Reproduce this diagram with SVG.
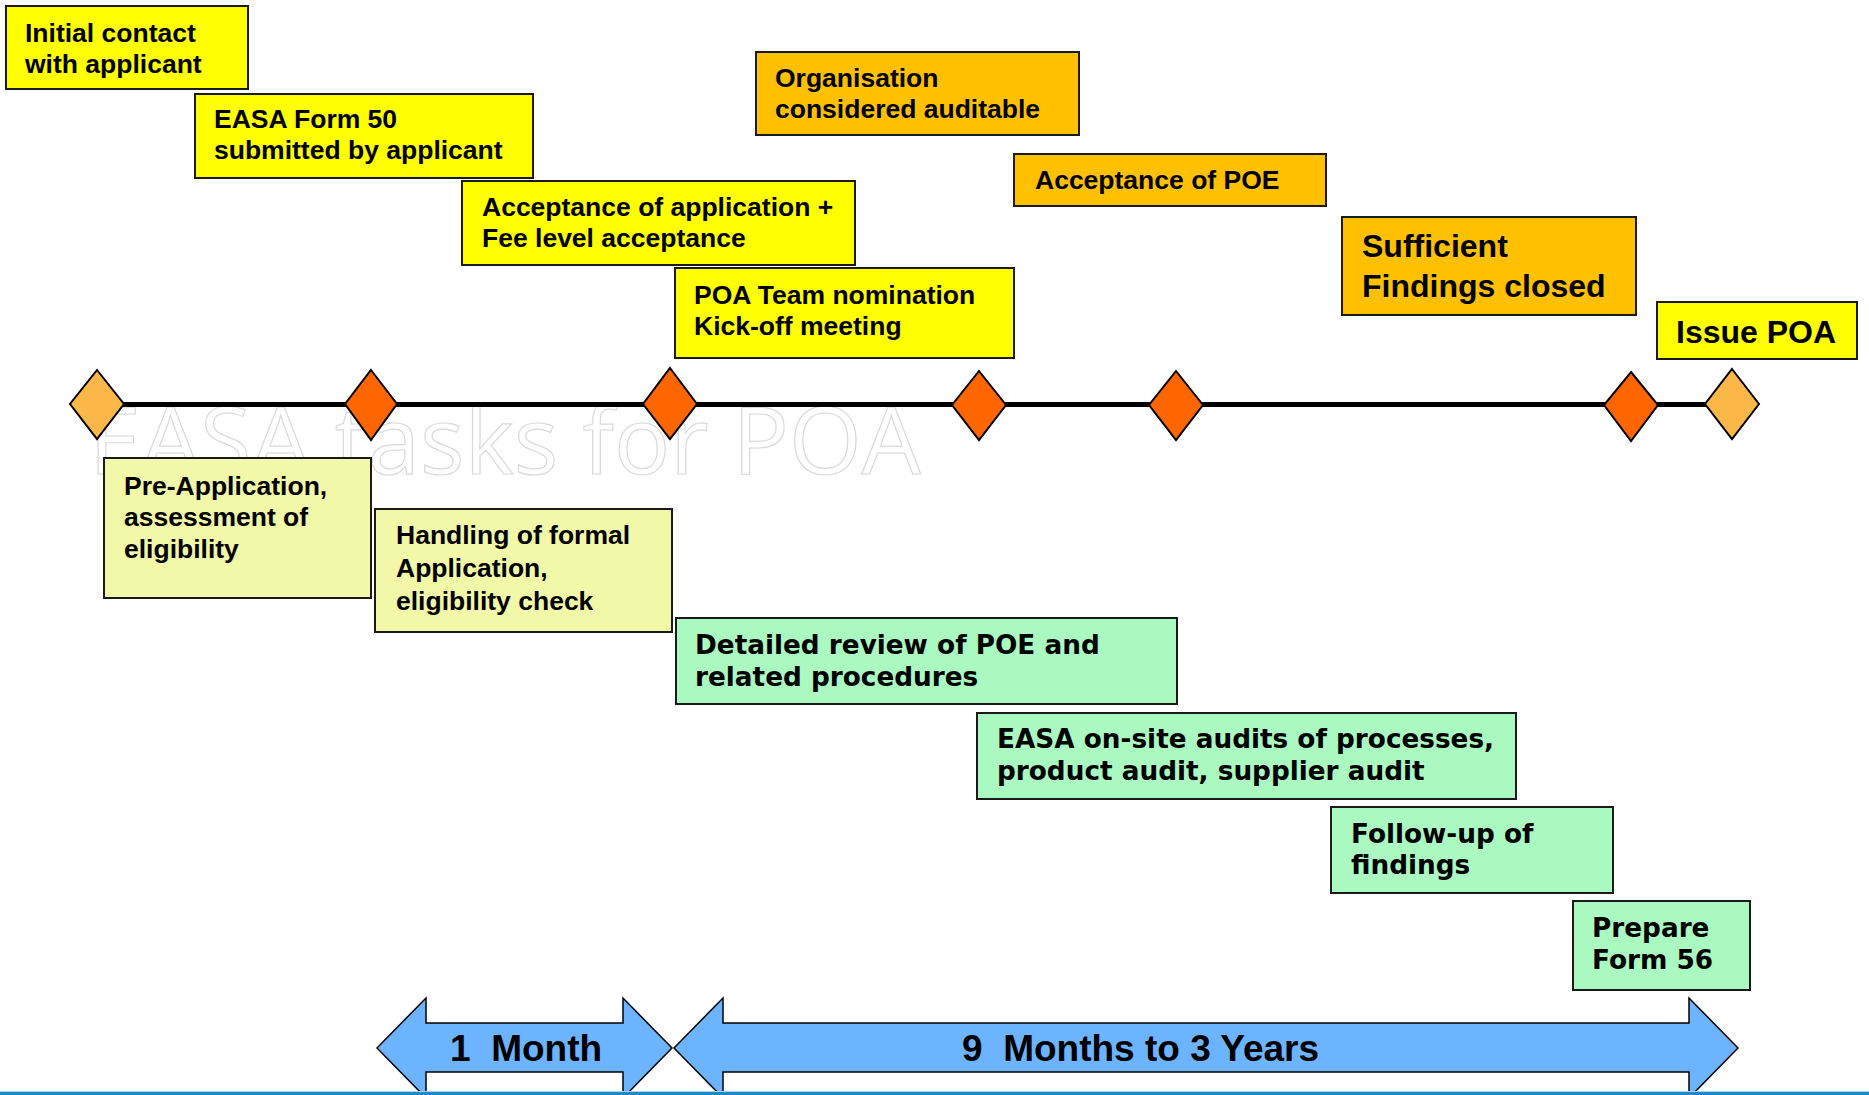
<svg xmlns="http://www.w3.org/2000/svg" width="1869" height="1095" viewBox="0 0 1869 1095">
<style>
.box{stroke:#1a1a1a;stroke-width:2}
.yel{fill:#FFFF00}
.org{fill:#FFC000}
.pale{fill:#F1F8A8}
.grn{fill:#AAF9C1}
.t{font-family:"Liberation Sans",Arial,sans-serif;font-weight:bold;font-size:26.5px;fill:#000}
.tb{font-family:"Liberation Sans",Arial,sans-serif;font-weight:bold;font-size:32px;fill:#000}
.tv{font-family:"DejaVu Sans",Verdana,sans-serif;font-weight:bold;font-size:26.3px;fill:#000}
.ta{font-family:"Liberation Sans",Arial,sans-serif;font-weight:bold;font-size:37px;fill:#000}
.dk{fill:#FF6600;stroke:#000;stroke-width:2}
.lt{fill:#FBB848;stroke:#000;stroke-width:2}
.arr{fill:#6CB4FF;stroke:#000;stroke-width:1.5}
.wm{font-family:"Open Sans","DejaVu Sans",sans-serif;font-size:93.5px;fill:#fff;stroke:#d9d9d9;stroke-width:1.2}
</style>
<rect width="1869" height="1095" fill="#fff"/>
<text class="wm" x="89" y="474">EASA tasks for POA</text>
<g id="connectors">
<line x1="97" y1="404.5" x2="1732" y2="404.5" stroke="#000" stroke-width="5"/>
</g>
<g id="m1"><polygon class="lt" points="97,370 124,404 97,439 70,404"/></g>
<g id="m2"><polygon class="dk" points="371,370 397,404 371,440 345,404"/></g>
<g id="m3"><polygon class="dk" points="670,368 697,404 670,439 643,404"/></g>
<g id="m4"><polygon class="dk" points="979,371 1006,405 979,440 952,405"/></g>
<g id="m5"><polygon class="dk" points="1176,371 1203,405 1176,440 1149,405"/></g>
<g id="m6"><polygon class="dk" points="1631,372 1658,405 1631,441 1604,405"/></g>
<g id="m7"><polygon class="lt" points="1732,369 1759,404 1732,439 1705,404"/></g>

<g id="initial-contact"><rect class="box yel" x="6" y="6" width="242" height="83"/><text class="t" x="25" y="42">Initial contact</text><text class="t" x="25" y="73">with applicant</text></g>
<g id="form50"><rect class="box yel" x="195" y="94" width="338" height="84"/><text class="t" x="214" y="128">EASA Form 50</text><text class="t" x="214" y="159">submitted by applicant</text></g>
<g id="acceptance-app"><rect class="box yel" x="462" y="181" width="393" height="84"/><text class="t" x="482" y="216">Acceptance of application +</text><text class="t" x="482" y="247">Fee level acceptance</text></g>
<g id="poa-team"><rect class="box yel" x="675" y="268" width="339" height="90"/><text class="t" x="694" y="304">POA Team nomination</text><text class="t" x="694" y="335">Kick-off meeting</text></g>
<g id="org-auditable"><rect class="box org" x="756" y="52" width="323" height="83"/><text class="t" x="775" y="87">Organisation</text><text class="t" x="775" y="118">considered auditable</text></g>
<g id="poe-acceptance"><rect class="box org" x="1014" y="154" width="312" height="52"/><text class="t" x="1035" y="189">Acceptance of POE</text></g>
<g id="findings-closed"><rect class="box org" x="1342" y="217" width="294" height="98"/><text class="tb" x="1362" y="257">Sufficient</text><text class="tb" x="1362" y="297">Findings closed</text></g>
<g id="issue-poa"><rect class="box yel" x="1657" y="302" width="200" height="57"/><text class="tb" x="1676" y="343">Issue POA</text></g>

<g id="pre-application"><rect class="box pale" x="104" y="458" width="267" height="140"/><text class="t" x="124" y="495">Pre-Application,</text><text class="t" x="124" y="526">assessment of</text><text class="t" x="124" y="558">eligibility</text></g>
<g id="formal-application"><rect class="box pale" x="375" y="509" width="297" height="123"/><text class="t" x="396" y="544">Handling of formal</text><text class="t" x="396" y="577">Application,</text><text class="t" x="396" y="610">eligibility check</text></g>
<g id="poe-review"><rect class="box grn" x="676" y="618" width="501" height="86"/><text class="tv" x="695" y="654">Detailed review of POE and</text><text class="tv" x="695" y="686">related procedures</text></g>
<g id="onsite-audits"><rect class="box grn" x="977" y="713" width="539" height="86"/><text class="tv" x="997" y="748">EASA on-site audits of processes,</text><text class="tv" x="997" y="780">product audit, supplier audit</text></g>
<g id="follow-up"><rect class="box grn" x="1331" y="807" width="282" height="86"/><text class="tv" x="1351" y="843">Follow-up of</text><text class="tv" x="1351" y="874">findings</text></g>
<g id="form56"><rect class="box grn" x="1573" y="901" width="177" height="89"/><text class="tv" x="1592" y="937">Prepare</text><text class="tv" x="1592" y="969">Form 56</text></g>

<g id="span-1-month"><polygon class="arr" points="377,1048 426,998 426,1023 623,1023 623,998 672,1048 623,1098 623,1072 426,1072 426,1098"/><text class="ta" x="450" y="1061" xml:space="preserve">1  Month</text></g>
<g id="span-9-months"><polygon class="arr" points="674,1048 723,998 723,1023 1689,1023 1689,998 1738,1048 1689,1098 1689,1072 723,1072 723,1098"/><text class="ta" x="962" y="1061" xml:space="preserve">9  Months to 3 Years</text></g>

<rect x="0" y="1091" width="1869" height="1" fill="#A6D3EE"/>
<rect x="0" y="1092" width="1869" height="3" fill="#1E88C8"/>
</svg>
